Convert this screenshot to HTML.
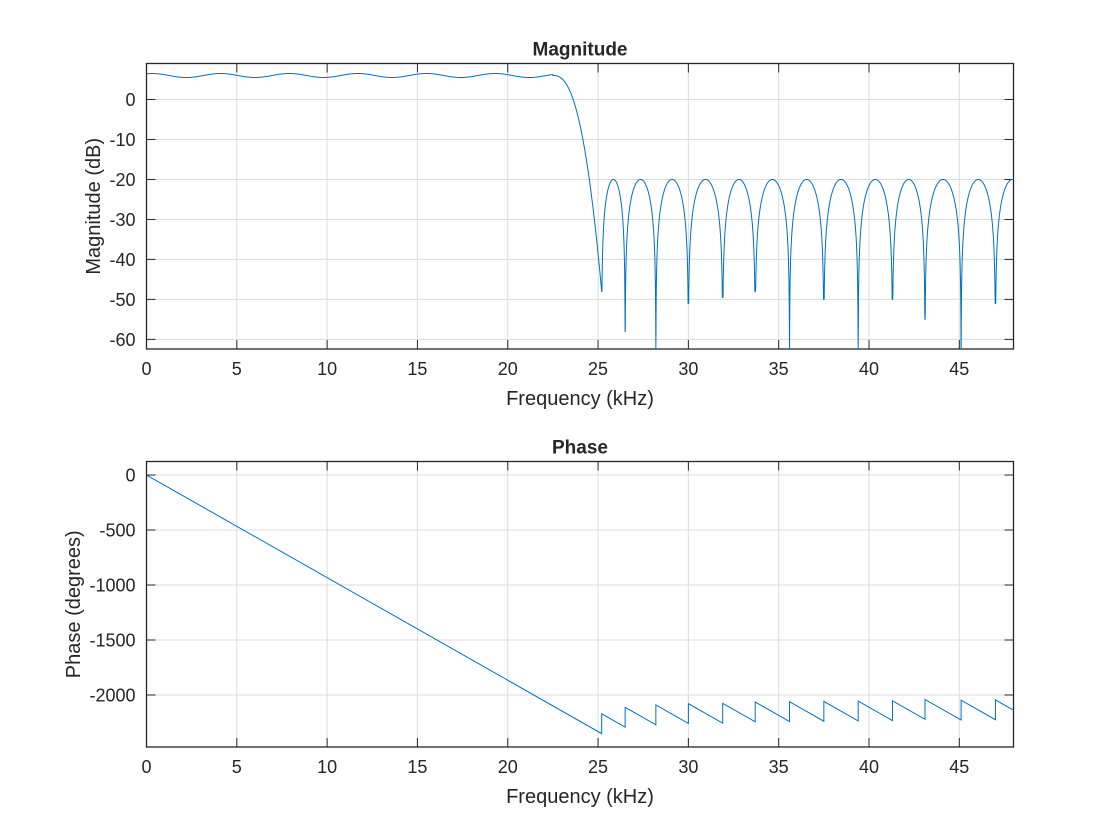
<!DOCTYPE html>
<html><head><meta charset="utf-8"><style>
body{margin:0;background:#fff}
svg{display:block;font-family:"Liberation Sans",Arial,sans-serif}
</style></head><body>
<svg id="s" width="1120" height="840" xmlns="http://www.w3.org/2000/svg"></svg>
<script>
const s=document.getElementById('s');
const L=146.5,R=1013.5;
const xs=f=>L+(f/48)*(R-L);
let h='<rect width="1120" height="840" fill="#fff"/>';
const nulls=[25.2,26.5,28.2,30.0,31.9,33.7,35.6,37.5,39.4,41.3,43.1,45.1,47.0,48.9];
const depth=[-48,-58,-70,-51,-49.5,-48,-70,-50,-70,-50,-55,-70,-51,-50];
function axes(T,B,yv,ymin,ymax,yticks,title,ylab){
  const ys=v=>T+(ymax-v)/(ymax-ymin)*(B-T);
  let g='';
  for(let f=5;f<48;f+=5){g+=`<line x1="${xs(f)}" y1="${T}" x2="${xs(f)}" y2="${B}" stroke="#dcdcdc" stroke-width="1"/>`;}
  for(const v of yticks){g+=`<line x1="${L}" y1="${ys(v)}" x2="${R}" y2="${ys(v)}" stroke="#dcdcdc" stroke-width="1"/>`;}
  g+=`<rect x="${L}" y="${T}" width="${R-L}" height="${B-T}" fill="none" stroke="#262626" stroke-width="1.3"/>`;
  for(let f=0;f<48;f+=5){const x=xs(f);
    g+=`<line x1="${x}" y1="${B}" x2="${x}" y2="${B-9}" stroke="#262626"/><line x1="${x}" y1="${T}" x2="${x}" y2="${T+9}" stroke="#262626"/>`;
    g+=`<text x="${x}" y="${B+26}" font-size="18" text-anchor="middle" fill="#262626">${f}</text>`;}
  for(const v of yticks){const y=ys(v);
    g+=`<line x1="${L}" y1="${y}" x2="${L+9}" y2="${y}" stroke="#262626"/><line x1="${R}" y1="${y}" x2="${R-9}" y2="${y}" stroke="#262626"/>`;
    g+=`<text x="${L-11}" y="${y+6.5}" font-size="18" text-anchor="end" fill="#262626">${v}</text>`;}
  g+=`<text x="580" y="${T-8}" font-size="19" font-weight="bold" text-anchor="middle" fill="#262626">${title}</text>`;
  g+=`<text x="580" y="${B+56}" font-size="20" text-anchor="middle" fill="#262626">Frequency (kHz)</text>`;
  g+=`<text transform="translate(${yv},${(T+B)/2}) rotate(-90)" font-size="20" text-anchor="middle" fill="#262626">${ylab}</text>`;
  return [g,ys];
}
function mag(f){
  if(f<22.5) return 6+0.5*Math.cos(2*Math.PI*(f-0.3)/3.8);
  if(f<25.2){const r=(f-22.5)/2.7;return 6-54*Math.pow(r,2.5);}
  for(let i=0;i<nulls.length-1;i++){
    if(f>=nulls[i]&&f<nulls[i+1]){
      const t=(f-nulls[i])/(nulls[i+1]-nulls[i]);
      let d=20*Math.log10(0.1*Math.abs(Math.sin(Math.PI*t))+1e-9);
      const dp=t<0.5?depth[i]:depth[i+1];
      return Math.max(d,dp);
    }}
  return -20;
}
let [g1,ys1]=axes(63.5,349,100,-62.4,9,[0,-10,-20,-30,-40,-50,-60],'Magnitude','Magnitude (dB)');
h+=g1;
let pts=[];
for(let i=0;i<=6000;i++){const f=48*i/6000;let y=ys1(mag(f));y=Math.min(y,349);pts.push(xs(f).toFixed(2)+','+y.toFixed(2));}
h+=`<clipPath id="c1"><rect x="${L}" y="63.5" width="${R-L}" height="285.5"/></clipPath>`;
h+=`<polyline clip-path="url(#c1)" points="${pts.join(' ')}" fill="none" stroke="#0072bd" stroke-width="1"/>`;
let [g2,ys2]=axes(461.5,747,80,-2473,123,[0,-500,-1000,-1500,-2000],'Phase','Phase (degrees)');
h+=g2;
let pp=[];let k=0;const sl=-2351/25.2;
pp.push(xs(0)+','+ys2(0));
for(let i=0;i<nulls.length;i++){
  const n=nulls[i];if(n>48){break;}
  pp.push(xs(n)+','+ys2(sl*n+180*k));k++;
  pp.push(xs(n)+','+ys2(sl*n+180*k));
}
pp.push(xs(48)+','+ys2(sl*48+180*k));
h+=`<polyline points="${pp.join(' ')}" fill="none" stroke="#0072bd" stroke-width="1"/>`;
s.innerHTML=h;
</script>
</body></html>
